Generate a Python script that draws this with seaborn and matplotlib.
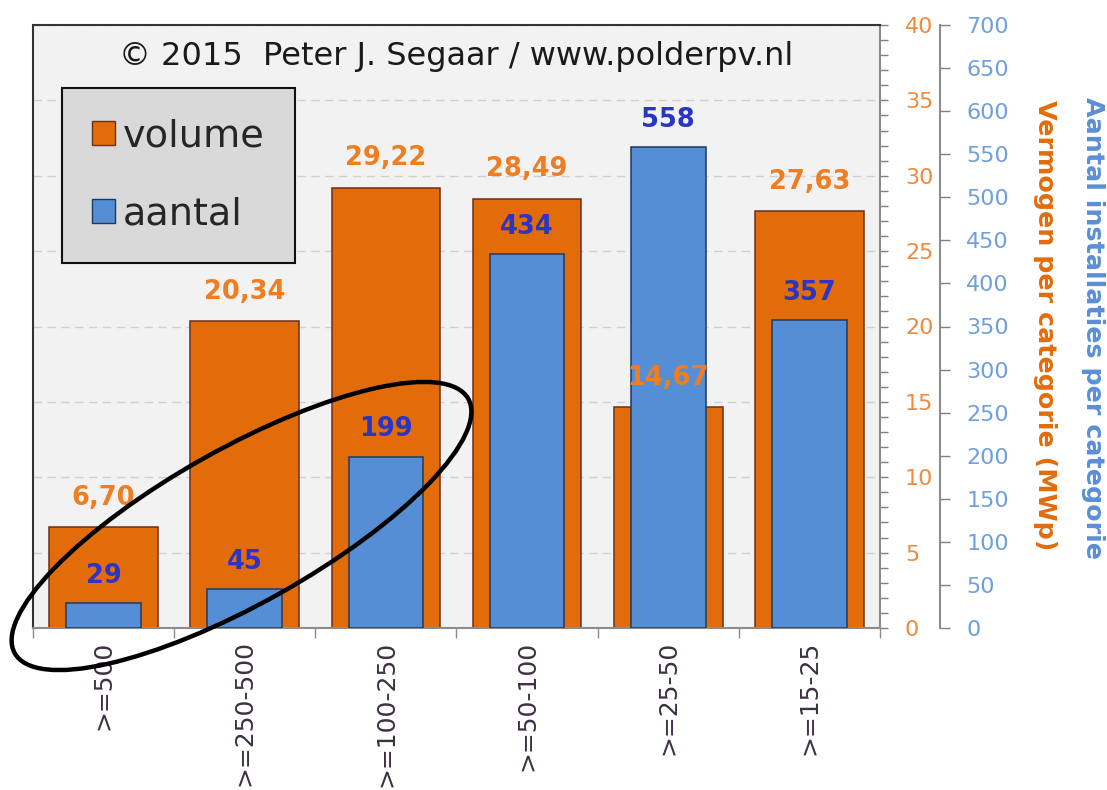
"""
Vermogen en aantal installaties per categorie (polderpv).
"""
import seaborn as sns
import pandas as pd
import matplotlib.pyplot as plt
from matplotlib.patches import Patch, Ellipse
from matplotlib.ticker import MultipleLocator, FixedLocator


categories = [">=500", ">=250-500", ">=100-250", ">=50-100", ">=25-50", ">=15-25"]
volume = [6.70, 20.34, 29.22, 28.49, 14.67, 27.63]
aantal = [29, 45, 199, 434, 558, 357]

ORANGE = "#E36C0A"
ORANGE_TXT = "#EF7D22"
ORANGE_TICK = "#F08A3C"
BLUE = "#558ED5"
BLUE_TXT = "#2A35C4"
BLUE_TICK = "#6F9FDD"


def gen_chart():
    df = pd.DataFrame({"categorie": categories, "volume": volume, "aantal": aantal})

    sns.set_style("white")
    plt.rcParams["font.family"] = ["DejaVu Sans"]

    fig = plt.figure(figsize=(11.07, 7.90), dpi=100)
    ax = fig.add_axes([33 / 1107, 162 / 790, 847 / 1107, 603 / 790])
    ax.set_facecolor("#F2F2F2")

    # Orange bars on the first axis, blue bars on the twin.
    sns.barplot(data=df, x="categorie", y="volume", color=ORANGE, saturation=1,
                width=0.77, edgecolor="#6B2F1A", linewidth=1.1, ax=ax, zorder=2)
    ax2 = ax.twinx()
    sns.barplot(data=df, x="categorie", y="aantal", color=BLUE, saturation=1,
                width=0.53, edgecolor="#1F3A5F", linewidth=1.1, ax=ax2, zorder=2)

    ax.set_xlim(-0.5, len(categories) - 0.5)
    ax.set_ylim(0, 40)
    ax2.set_ylim(0, 700)

    # Grid
    ax.set_axisbelow(True)
    ax.yaxis.grid(True, which="major", linestyle=(0, (6, 4)), color="#CFCFCF", linewidth=1)

    # Orange axis on the right edge of the plot.
    ax.yaxis.tick_right()
    ax.yaxis.set_major_locator(MultipleLocator(5))
    ax.yaxis.set_minor_locator(MultipleLocator(1))
    ax.tick_params(axis="y", which="both", right=True, left=False, direction="out",
                   length=6, width=1, color="#808080", labelcolor=ORANGE_TICK,
                   labelsize=16, pad=12)

    # Blue axis further out.
    ax2.spines["right"].set_position(("outward", 43))
    ax2.yaxis.set_major_locator(MultipleLocator(50))
    ax2.tick_params(axis="y", which="major", right=True, direction="out", length=7,
                    width=1, color="#808080", labelcolor=BLUE_TICK, labelsize=16, pad=12)
    for s in ["left", "top", "bottom"]:
        ax2.spines[s].set_visible(False)
    ax2.spines["right"].set_color("#8C8C8C")
    ax2.spines["right"].set_linewidth(1.5)
    ax2.set_ylabel("")
    ax2.set_xlabel("")

    # Frame.
    for s in ["left", "top"]:
        ax.spines[s].set_color("#333333")
        ax.spines[s].set_linewidth(1.5)
    for s in ["right", "bottom"]:
        ax.spines[s].set_color("#8C8C8C")
        ax.spines[s].set_linewidth(1.5)

    # X ticks at category borders, labels at centers.
    ax.xaxis.set_major_locator(FixedLocator([i - 0.5 for i in range(len(categories) + 1)]))
    ax.xaxis.set_minor_locator(FixedLocator(list(range(len(categories)))))
    ax.set_xticklabels([], minor=False)
    ax.set_xticklabels(categories, minor=True, rotation=90, fontsize=18, color="#3D3040")
    ax.tick_params(axis="x", which="major", bottom=True, direction="out", length=7,
                   width=1, color="#8C8C8C")
    ax.tick_params(axis="x", which="minor", bottom=True, length=0, pad=9)
    ax.set_xlabel("")

    # Axis titles.
    ax.set_ylabel("Vermogen per categorie (MWp)", color=ORANGE, fontsize=18.3,
                  fontweight="bold", rotation=270)
    ax.yaxis.set_label_position("right")
    ax.yaxis.set_label_coords(1.195, 0.502)
    ax.yaxis.label.set_ha("center")
    ax.yaxis.label.set_va("center")
    ax.yaxis.label.set_rotation_mode("default")
    ax.text(1.2515, 0.497, "Aantal installaties per categorie", color="#5B8FD6",
            fontsize=18.3, fontweight="bold", rotation=270, ha="center", va="center",
            transform=ax.transAxes)

    # Value labels; orange ones on the twin so they sit over the blue bars.
    for rec in ax.containers[0]:
        txt = f"{rec.get_height():.2f}".replace(".", ",")
        ax2.annotate(txt, xy=(rec.get_x() + rec.get_width() / 2, rec.get_height()),
                     xycoords=ax.transData, xytext=(0, 16), textcoords="offset points",
                     ha="center", va="baseline", fontsize=18.5, fontweight="bold",
                     color=ORANGE_TXT, zorder=5)
    for rec in ax2.containers[0]:
        ax2.annotate(f"{rec.get_height():.0f}",
                     xy=(rec.get_x() + rec.get_width() / 2, rec.get_height()),
                     xytext=(0, 14.5), textcoords="offset points",
                     ha="center", va="baseline", fontsize=18.5, fontweight="bold",
                     color=BLUE_TXT, zorder=5)

    # Copyright line.
    ax.text(0.5, 0.947, "\u00a9 2015  Peter J. Segaar / www.polderpv.nl",
            transform=ax.transAxes, ha="center", va="center", fontsize=23,
            color="#1A1A1A")

    # Legend.
    handles = [Patch(facecolor=ORANGE, edgecolor="#6B2F1A", label="volume"),
               Patch(facecolor=BLUE, edgecolor="#1F3A5F", label="aantal")]
    leg = ax2.legend(handles=handles, loc="upper left", bbox_to_anchor=(0.034, 0.896),
                     borderaxespad=0, fontsize=27.5, fancybox=False, framealpha=1,
                     facecolor="#D9D9D9", edgecolor="#111111", handlelength=0.6,
                     handleheight=0.6, handletextpad=0.2, labelspacing=1.1,
                     borderpad=0.8)
    leg.get_frame().set_linewidth(1.5)

    # Hand drawn ellipse around the first three categories.
    ell = Ellipse((2.415, 2.64), 5.2, 1.55, angle=29.3, fill=False, edgecolor="black",
                  linewidth=3.2, transform=fig.dpi_scale_trans, zorder=10)
    fig.add_artist(ell)

    plt.savefig("out.png", dpi=100)


if __name__ == "__main__":
    gen_chart()
